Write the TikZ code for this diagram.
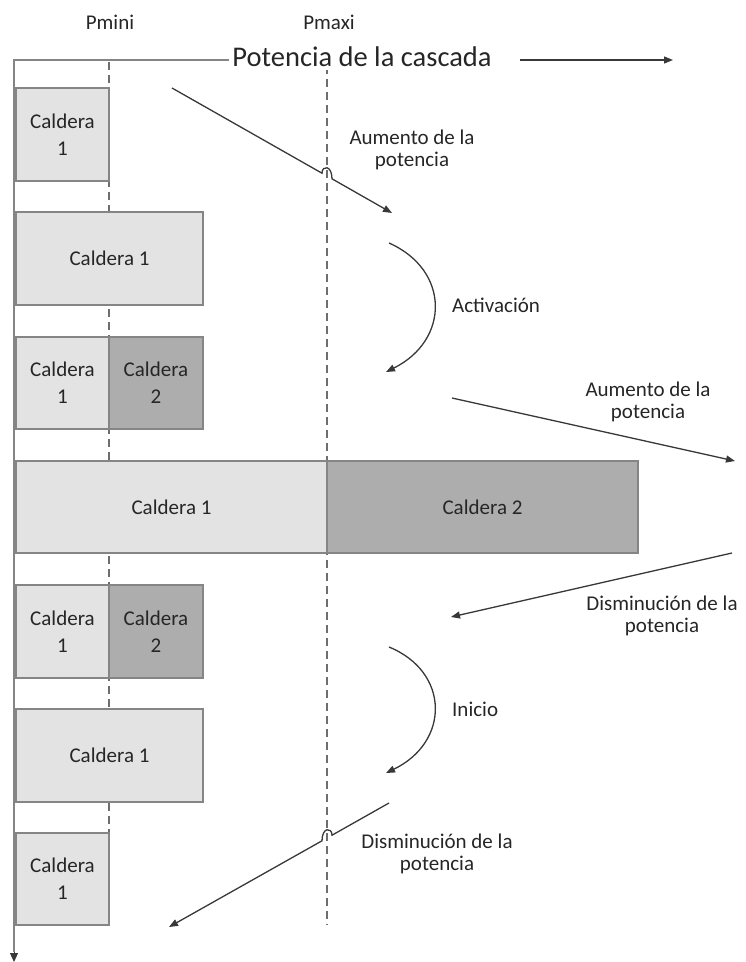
\documentclass[tikz,border=0pt]{standalone}
\usepackage{fontspec}
\setmainfont{Carlito}
\usetikzlibrary{arrows.meta}
\definecolor{boxlight}{HTML}{E3E3E3}
\definecolor{boxdark}{HTML}{ADADAD}
\definecolor{edgecol}{HTML}{858585}
\definecolor{ink}{HTML}{262626}
\definecolor{linecol}{HTML}{383838}
\definecolor{dashcol}{HTML}{6E6E6E}
\begin{document}
\begin{tikzpicture}[x=1pt,y=-1pt,
  boxbase/.style={draw=edgecol, line width=1.3pt, anchor=north west, inner sep=0pt, outer sep=0pt,
    align=center, text=ink, font=\fontsize{21}{27}\selectfont},
  lightbox/.style={boxbase, fill=boxlight},
  darkbox/.style={boxbase, fill=boxdark},
  lbl/.style={text=ink, align=center, inner sep=0pt, font=\fontsize{21}{22}\selectfont},
  titlelbl/.style={text=ink, inner sep=3pt, font=\fontsize{28.5}{30}\selectfont},
  dashline/.style={dashcol, line width=1.1pt, dash pattern=on 8pt off 5pt},
  axisline/.style={edgecol, line width=2pt},
  arr/.style={linecol, line width=1.3pt, -{Triangle[length=9pt,width=7pt]}},
]
\useasboundingbox (0,0) rectangle (745,962);

% dashed reference lines
\coordinate (pminitop) at (109,62);
\coordinate (pminibot) at (109,833);
\coordinate (pmaxitop) at (327,66);
\coordinate (pmaxibot) at (327,925);
\draw[dashline] (pminitop) -- (pminibot);
\draw[dashline] (pmaxitop) -- (pmaxibot);

% labels at top
\node[lbl] (pmini) at (110,22) {Pmini};
\node[lbl] (pmaxi) at (329,22) {Pmaxi};
\node[titlelbl, fill=white] (titulo) at (362,57) {Potencia de la cascada};

% axes
\coordinate (corner) at (14,60);
\coordinate (axisend) at (14,952);
\coordinate (axistip) at (14,962);
\coordinate (harrs) at (520,60);
\coordinate (harre) at (673,60);
\draw[axisline] (titulo.west |- corner) -- (corner) -- (axisend);
\draw[arr, line width=1pt, -{Triangle[length=9pt,width=8pt]}] (axisend) -- (axistip);
\draw[arr] (harrs) -- (harre);

% boxes
\node[lightbox, minimum width=93pt, minimum height=93pt] (b1) at (16,88) {Caldera\\1};
\node[lightbox, minimum width=187pt, minimum height=93pt] (b2) at (16,212) {Caldera 1};
\node[lightbox, minimum width=93pt, minimum height=92pt] (b3a) at (16,337) {Caldera\\1};
\node[darkbox, minimum width=94pt, minimum height=92pt] (b3b) at (109,337) {Caldera\\2};
\node[lightbox, minimum width=311pt, minimum height=92pt] (b4a) at (16,461) {Caldera 1};
\node[darkbox, minimum width=311pt, minimum height=92pt] (b4b) at (327,461) {Caldera 2};
\node[lightbox, minimum width=93pt, minimum height=93pt] (b5a) at (16,585) {Caldera\\1};
\node[darkbox, minimum width=94pt, minimum height=93pt] (b5b) at (109,585) {Caldera\\2};
\node[lightbox, minimum width=187pt, minimum height=93pt] (b6) at (16,709) {Caldera 1};
\node[lightbox, minimum width=93pt, minimum height=92pt] (b7) at (16,833) {Caldera\\1};

% arrow 1 (with hop over Pmaxi)
\coordinate (a1s) at (172,88);
\coordinate (a1e) at (392,213);
\draw[arr] (a1s) -- (322,173.2) .. controls (322,165) and (332,165) .. (332,178.8) -- (a1e);
\node[lbl] (l1) at (412,150) {Aumento de la\\potencia};

% curved arrow: Activacion
\coordinate (c1s) at (389,243);
\coordinate (c1e) at (386,372);
\draw[arr] (c1s) .. controls (450,270) and (450,340) .. (c1e);
\node[lbl, anchor=west] (l2) at (452,305) {Activación};

% arrow 2
\coordinate (a2s) at (452,398);
\coordinate (a2e) at (735,461);
\draw[arr] (a2s) -- (a2e);
\node[lbl] (l3) at (648,402) {Aumento de la\\potencia};

% arrow 3
\coordinate (a3s) at (732,553);
\coordinate (a3e) at (451,617);
\draw[arr] (a3s) -- (a3e);
\node[lbl] (l4) at (662,616) {Disminución de la\\potencia};

% curved arrow: Inicio
\coordinate (c2s) at (389,647);
\coordinate (c2e) at (386,773);
\draw[arr] (c2s) .. controls (450,672) and (450,742) .. (c2e);
\node[lbl, anchor=west] (l5) at (452,709) {Inicio};

% arrow 4 (with hop over Pmaxi)
\coordinate (a4s) at (389,803);
\coordinate (a4e) at (169,927);
\draw[arr] (a4s) -- (332,835.2) .. controls (332,827) and (322,827) .. (322,840.8) -- (a4e);
\node[lbl] (l6) at (437,854) {Disminución de la\\potencia};
\end{tikzpicture}
\end{document}
